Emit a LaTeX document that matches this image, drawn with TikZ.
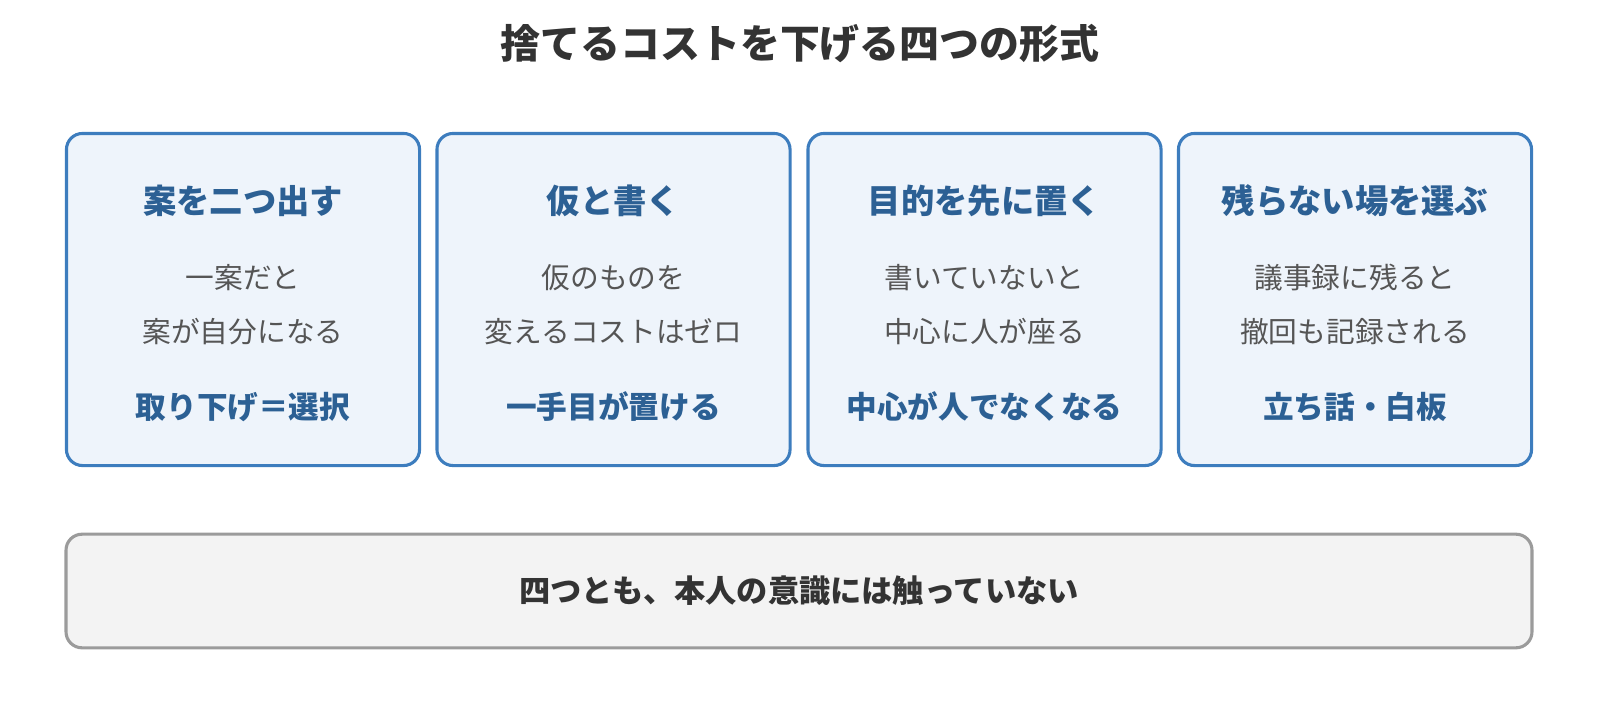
\documentclass[tikz,border=0pt]{standalone}
\usepackage{fontspec}
\setmainfont{Noto Sans CJK JP}
\usetikzlibrary{positioning}
\definecolor{cblue}{RGB}{61,125,190}
\definecolor{cfill}{RGB}{238,244,251}
\definecolor{chead}{RGB}{44,96,148}
\definecolor{ctext}{RGB}{85,85,85}
\definecolor{cdark}{RGB}{51,51,51}
\definecolor{cgrey}{RGB}{155,155,155}
\definecolor{cpale}{RGB}{243,243,243}

\tikzset{
  card/.style={draw=cblue, line width=2.2pt, fill=cfill, rounded corners=0.4cm,
               minimum width=8.825cm, minimum height=8.3cm},
  headtext/.style={text=chead, font=\bfseries\fontsize{23.7}{28}\selectfont},
  bodytext/.style={text=ctext, font=\fontsize{20.4}{24}\selectfont},
  keytext/.style={text=chead, font=\bfseries\fontsize{21.8}{26}\selectfont},
}

\begin{document}
\begin{tikzpicture}[x=0.025cm, y=-0.025cm]
        \useasboundingbox (0,0) rectangle (1600,712);

        % title
        \node[name=title, text=cdark, font=\bfseries\fontsize{28.4}{33}\selectfont] at (800,43) {捨てるコストを下げる四つの形式};

        % card one
        \node[name=card1, card] at (243,299.5) {};
        \node[name=h1, headtext] at (243,201) {案を二つ出す};
        \node[name=b1a, bodytext] at (243,277.5) {一案だと};
        \node[name=b1b, bodytext] at (243,331.5) {案が自分になる};
        \node[name=k1, keytext] at (243,407) {取り下げ＝選択};

        % card two
        \node[name=card2, card] at (613.5,299.5) {};
        \node[name=h2, headtext] at (613.5,201) {仮と書く};
        \node[name=b2a, bodytext] at (613.5,277.5) {仮のものを};
        \node[name=b2b, bodytext] at (613.5,331.5) {変えるコストはゼロ};
        \node[name=k2, keytext] at (613.5,407) {一手目が置ける};

        % card three
        \node[name=card3, card] at (984.5,299.5) {};
        \node[name=h3, headtext] at (984.5,201) {目的を先に置く};
        \node[name=b3a, bodytext] at (984.5,277.5) {書いていないと};
        \node[name=b3b, bodytext] at (984.5,331.5) {中心に人が座る};
        \node[name=k3, keytext] at (984.5,407) {中心が人でなくなる};

        % card four
        \node[name=card4, card] at (1355,299.5) {};
        \node[name=h4, headtext] at (1355,201) {残らない場を選ぶ};
        \node[name=b4a, bodytext] at (1355,277.5) {議事録に残ると};
        \node[name=b4b, bodytext] at (1355,331.5) {撤回も記録される};
        \node[name=k4, keytext] at (1355,407) {立ち話・白板};

        % summary bar
        \node[name=summary, draw=cgrey, line width=2.2pt, fill=cpale, rounded corners=0.4cm,
              minimum width=36.64cm, minimum height=2.84cm,
              text=cdark, font=\bfseries\fontsize{22.2}{26}\selectfont] at (799,591) {四つとも、本人の意識には触っていない};
    \end{tikzpicture}
\end{document}
